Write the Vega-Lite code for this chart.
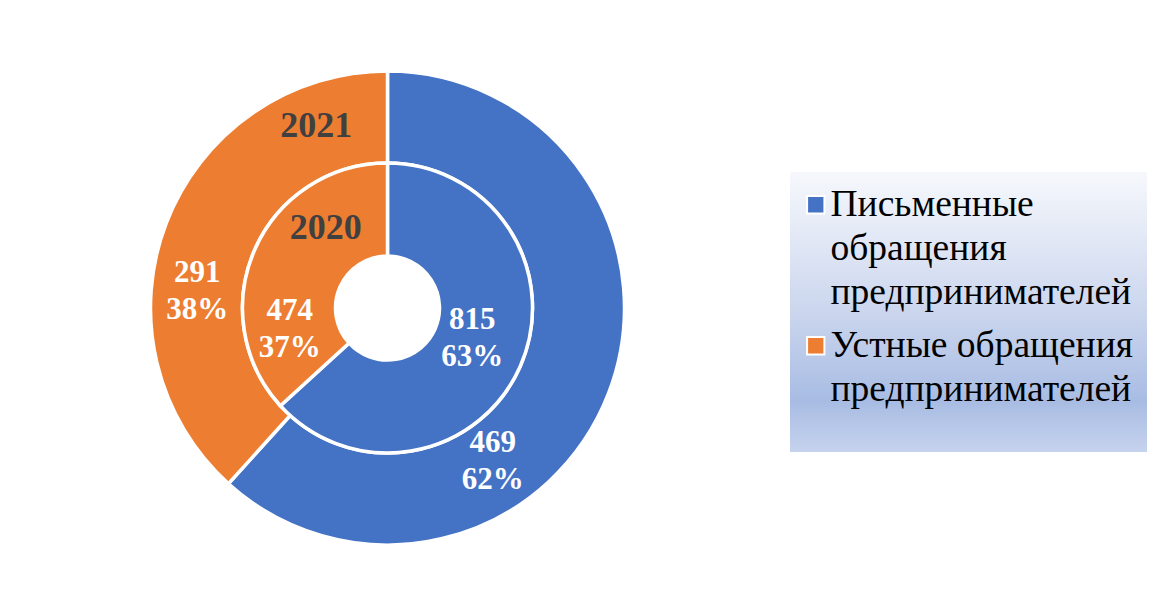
{
  "$schema": "https://vega.github.io/schema/vega-lite/v6.json",
  "width": 775,
  "height": 616,
  "padding": 0,
  "autosize": {"type": "pad"},
  "background": "white",
  "config": {"view": {"stroke": null}},
  "data": {
    "values": [
      {"ring": "2021", "category": "Письменные обращения предпринимателей", "value": 469, "label": "469\n62%"},
      {"ring": "2021", "category": "Устные обращения предпринимателей", "value": 291, "label": "291\n38%"},
      {"ring": "2020", "category": "Письменные обращения предпринимателей", "value": 815, "label": "815\n63%"},
      {"ring": "2020", "category": "Устные обращения предпринимателей", "value": 474, "label": "474\n37%"}
    ]
  },
  "encoding": {
    "theta": {"field": "value", "type": "quantitative", "stack": "normalize"},
    "order": {"field": "category", "sort": "ascending"}
  },
  "layer": [
    {
      "transform": [{"filter": "datum.ring == '2021'"}],
      "mark": {"type": "arc", "radius": 237, "radius2": 145, "stroke": "white", "strokeWidth": 3.5},
      "encoding": {
        "color": {
          "field": "category", "type": "nominal",
          "scale": {"range": ["#4472C4", "#ED7D31"]},
          "legend": {
            "orient": "none", "legendX": 790, "legendY": 172, "title": " ", "titleOrient": "bottom", "titleFontSize": 24, "titlePadding": 6,
            "symbolType": "square", "symbolSize": 300, "symbolStrokeColor": "white", "symbolStrokeWidth": 2,
            "symbolOffset": -7,
            "labelFont": "Liberation Serif", "labelFontSize": 37.5, "labelColor": "black", "labelLimit": 500,
            "labelOffset": -4, "padding": 14, "rowPadding": 14,
            "labelExpr": "datum.label == 'Письменные обращения предпринимателей' ? ['Письменные', 'обращения', 'предпринимателей'] : ['Устные обращения', 'предпринимателей']",
            "encode": {
              "legend": {"update": {"fill": {"value": {"gradient": "linear", "x1": 0, "y1": 0, "x2": 0, "y2": 1, "stops": [
                {"offset": 0, "color": "#f6f8fc"},
                {"offset": 0.5, "color": "#cbd6ee"},
                {"offset": 0.82, "color": "#a8bce3"},
                {"offset": 1, "color": "#c6d3ee"}
              ]}}}},
              "labels": {"update": {"lineHeight": {"value": 44}}}
            }
          }
        }
      }
    },
    {
      "transform": [{"filter": "datum.ring == '2020'"}],
      "mark": {"type": "arc", "radius": 145, "radius2": 52, "stroke": "white", "strokeWidth": 3.5},
      "encoding": {"color": {"field": "category", "type": "nominal"}}
    },
    {
      "transform": [{"filter": "datum.ring == '2021'"}],
      "mark": {"type": "text", "radius": 190, "dx": -72, "dy": 67, "font": "Liberation Serif", "fontWeight": "bold", "fontSize": 31, "fill": "white", "lineBreak": "\n", "lineHeight": 37},
      "encoding": {
        "detail": {"field": "category"},
        "text": {"condition": {"test": "datum.category == 'Письменные обращения предпринимателей'", "field": "label"}, "value": ""}
      }
    },
    {
      "transform": [{"filter": "datum.ring == '2021'"}],
      "mark": {"type": "text", "radius": 190, "dx": -13, "dy": 33, "font": "Liberation Serif", "fontWeight": "bold", "fontSize": 31, "fill": "white", "lineBreak": "\n", "lineHeight": 37},
      "encoding": {
        "detail": {"field": "category"},
        "text": {"condition": {"test": "datum.category == 'Устные обращения предпринимателей'", "field": "label"}, "value": ""}
      }
    },
    {
      "transform": [{"filter": "datum.ring == '2021'"}],
      "mark": {"type": "text", "radius": 190, "dx": 106, "dy": -114, "font": "Liberation Serif", "fontWeight": "bold", "fontSize": 36, "fill": "#404040"},
      "encoding": {
        "detail": {"field": "category"},
        "text": {"condition": {"test": "datum.category == 'Устные обращения предпринимателей'", "field": "ring"}, "value": ""}
      }
    },
    {
      "transform": [{"filter": "datum.ring == '2020'"}],
      "mark": {"type": "text", "radius": 98, "dx": -5, "dy": -28, "font": "Liberation Serif", "fontWeight": "bold", "fontSize": 31, "fill": "white", "lineBreak": "\n", "lineHeight": 37},
      "encoding": {
        "detail": {"field": "category"},
        "text": {"condition": {"test": "datum.category == 'Письменные обращения предпринимателей'", "field": "label"}, "value": ""}
      }
    },
    {
      "transform": [{"filter": "datum.ring == '2020'"}],
      "mark": {"type": "text", "radius": 98, "dx": -8, "dy": 43, "font": "Liberation Serif", "fontWeight": "bold", "fontSize": 31, "fill": "white", "lineBreak": "\n", "lineHeight": 37},
      "encoding": {
        "detail": {"field": "category"},
        "text": {"condition": {"test": "datum.category == 'Устные обращения предпринимателей'", "field": "label"}, "value": ""}
      }
    },
    {
      "transform": [{"filter": "datum.ring == '2020'"}],
      "mark": {"type": "text", "radius": 98, "dx": 28, "dy": -40, "font": "Liberation Serif", "fontWeight": "bold", "fontSize": 36, "fill": "#404040"},
      "encoding": {
        "detail": {"field": "category"},
        "text": {"condition": {"test": "datum.category == 'Устные обращения предпринимателей'", "field": "ring"}, "value": ""}
      }
    }
  ]
}
